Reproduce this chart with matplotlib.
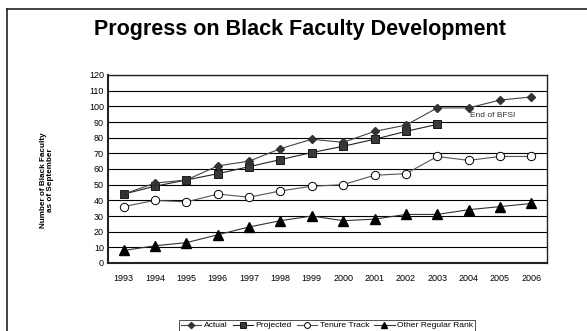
import matplotlib.pyplot as plt
from matplotlib.lines import Line2D

plt.rcParams['font.family'] = ['Liberation Sans', 'DejaVu Sans']

years = ['1993', '1994', '1995', '1996', '1997', '1998', '1999',
         '2000', '2001', '2002', '2003', '2004', '2005', '2006']
actual = [44, 51, 53, 62, 65, 73, 79, 77, 84, 88, 99, 99, 104, 106]
projected = [44, 49, 53, 57, 61.5, 66, 70.5, 74.5, 79, 84, 88.5]
tenure = [36, 40, 39, 44, 42, 46, 49, 50, 56, 57, 68, 65.5, 68, 68]
other = [8, 11, 13, 18, 23, 27, 30, 27, 28, 31, 31, 34, 36, 38]
y_ticks = list(range(0, 121, 10))

fig = plt.figure(figsize=(5.87, 3.31), dpi=100)
ax = fig.add_axes([108 / 587, 1 - 263 / 331, 439 / 587, 188 / 331])

x = list(range(len(years)))
ax.plot(x, actual, color='#444444', lw=0.8, marker='D', ms=4.5,
        mfc='#333333', mec='#333333', label='Actual', zorder=4)
ax.plot(x[:len(projected)], projected, color='#222222', lw=0.8, marker='s', ms=6,
        mfc='#3a3a3a', mec='black', mew=0.6, label='Projected', zorder=3)
ax.plot(x, tenure, color='#555555', lw=0.8, marker='o', ms=6,
        mfc='white', mec='black', mew=0.7, label='Tenure Track', zorder=3)
ax.plot(x, other, color='#333333', lw=0.8, marker='^', ms=7,
        mfc='black', mec='black', label='Other Regular Rank', zorder=3)

ax.text(11.05, 94, 'End of BFSI', fontsize=6, color='#333333', ha='left', va='center')

ax.set_xlim(-0.5, len(years) - 0.5)
ax.set_ylim(0, 120)
ax.set_yticks(y_ticks)
ax.set_xticks(x)
ax.set_xticklabels(years)
ax.tick_params(labelsize=6.5, length=0, pad=8)
ax.tick_params(axis='y', pad=3)
ax.yaxis.grid(True, color='black', lw=0.8)
ax.set_axisbelow(True)
for s in ax.spines.values():
    s.set_color('#222222')
    s.set_linewidth(1.0)
ax.spines['left'].set_linewidth(1.5)
ax.spines['bottom'].set_linewidth(1.5)

fig.text(47 / 587, 1 - 180 / 331, 'Number of Black Faculty\nas of September',
         rotation=90, ha='center', va='center', fontsize=5.9, fontweight='bold',
         linespacing=1.1)

fig.text(300 / 587, 1 - 30 / 331, 'Progress on Black Faculty Development',
         ha='center', va='center', fontsize=15.5, fontweight='bold')

# frame lines at top and left
fig.add_artist(Line2D([7 / 587, 7 / 587], [0, 1 - 9 / 331], transform=fig.transFigure,
                      color='#222222', lw=1.2))
fig.add_artist(Line2D([7 / 587, 1], [1 - 9 / 331, 1 - 9 / 331], transform=fig.transFigure,
                      color='#222222', lw=1.2))

leg = fig.legend(loc='center', bbox_to_anchor=(327 / 587, 1 - 325.5 / 331), ncol=4,
                 fontsize=6.1, frameon=True, fancybox=False, handlelength=2.4,
                 handletextpad=0.3, columnspacing=0.6, borderpad=0.2, markerscale=0.7)
leg.get_frame().set_edgecolor('black')
leg.get_frame().set_linewidth(0.6)

fig.savefig('out.png', dpi=100)
